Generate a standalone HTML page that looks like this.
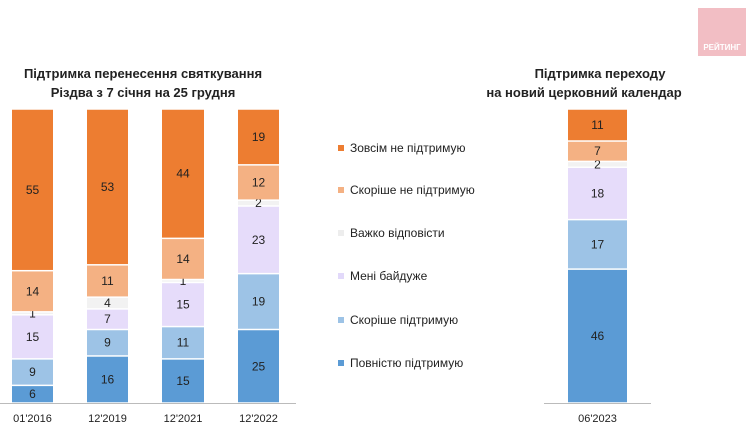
<!DOCTYPE html>
<html><head><meta charset="utf-8"><style>
html,body{margin:0;padding:0;background:#fff;}
svg{display:block;font-family:"Liberation Sans",Arial,sans-serif;}
</style></head><body>
<svg id="s" width="755" height="434" viewBox="0 0 755 434" xmlns="http://www.w3.org/2000/svg">
<rect width="755" height="434" fill="#fff"/>
<rect x="698" y="8" width="48" height="48" fill="#F2BEC4"/>
<text x="722" y="50" font-size="8" font-weight="bold" fill="#fff" text-anchor="middle">РЕЙТИНГ</text>
<text x="143" y="78" font-size="13" font-weight="bold" fill="#222" text-anchor="middle">Підтримка перенесення святкування</text>
<text x="143" y="97" font-size="13" font-weight="bold" fill="#222" text-anchor="middle">Різдва з 7 січня на 25 грудня</text>
<text x="600" y="78" font-size="13" font-weight="bold" fill="#222" text-anchor="middle">Підтримка переходу</text>
<text x="584" y="97" font-size="13" font-weight="bold" fill="#222" text-anchor="middle">на новий церковний календар</text>
<line x1="0" y1="403.5" x2="296" y2="403.5" stroke="#bbb"/>
<line x1="544" y1="403.5" x2="651" y2="403.5" stroke="#bbb"/>
<g id="bars"></g>
<g font-size="12" fill="#222">
<rect x="338" y="145" width="6" height="6" fill="#ED7D31"/><text x="350" y="152">Зовсім не підтримую</text>
<rect x="338" y="187" width="6" height="6" fill="#F4B183"/><text x="350" y="194">Скоріше  не підтримую</text>
<rect x="338" y="230" width="6" height="6" fill="#EDEDED"/><text x="350" y="237">Важко відповісти</text>
<rect x="338" y="273" width="6" height="6" fill="#E2D9FA"/><text x="350" y="280">Мені байдуже</text>
<rect x="338" y="317" width="6" height="6" fill="#9DC3E6"/><text x="350" y="324">Скоріше  підтримую</text>
<rect x="338" y="360" width="6" height="6" fill="#5B9BD5"/><text x="350" y="367">Повністю підтримую</text>
</g>
</svg>
<script>
var cols=["#5B9BD5","#9DC3E6","#E6DCFA","#F2F2F2","#F4B183","#ED7D31"];
var bars=[
 {x:12,w:41,v:[6,9,15,1,14,55],l:"01'2016"},
 {x:87,w:41,v:[16,9,7,4,11,53],l:"12'2019"},
 {x:162,w:42,v:[15,11,15,1,14,44],l:"12'2021"},
 {x:238,w:41,v:[25,19,23,2,12,19],l:"12'2022"},
 {x:568,w:59,v:[46,17,18,2,7,11],l:"06'2023"}];
var g=document.getElementById("bars"),h="";
bars.forEach(function(b){
 var tot=b.v.reduce(function(a,c){return a+c},0),H=294,y=403;
 b.v.forEach(function(v,i){
  var hh=v/tot*H,top=y-hh;
  h+='<rect x="'+b.x+'" y="'+(top+0.75)+'" width="'+b.w+'" height="'+Math.max(hh-1.5,0.5)+'" fill="'+cols[i]+'"/>';
  h+='<text x="'+(b.x+b.w/2)+'" y="'+(top+hh/2+4)+'" font-size="12" fill="#222" text-anchor="middle">'+v+'</text>';
  y=top;
 });
 h+='<text x="'+(b.x+b.w/2)+'" y="422" font-size="11" fill="#222" text-anchor="middle">'+b.l+'</text>';
});
g.innerHTML=h;
</script>
</body></html>
